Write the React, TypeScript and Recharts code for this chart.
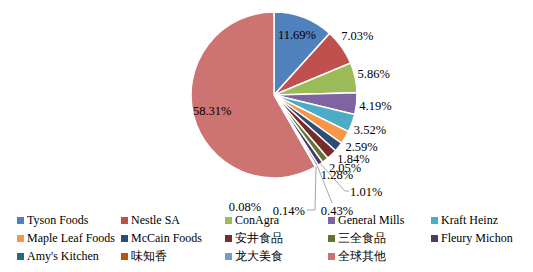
import React from 'react'
import { PieChart, Pie, Cell } from 'recharts'

const companies = [
	'Tyson Foods', 'Nestle SA', 'ConAgra', 'General Mills', 'Kraft Heinz',
	'Maple Leaf Foods', 'McCain Foods', '安井食品', '三全食品', 'Fleury Michon',
	"Amy's Kitchen", '味知香', '龙大美食', '全球其他',
]
const shares = [11.69, 7.03, 5.86, 4.19, 3.52, 2.59, 1.84, 2.05, 1.28, 1.01, 0.43, 0.14, 0.08, 58.31]
const colors = [
	'#4F81BD', '#C0504D', '#9BBB59', '#8064A2', '#4BACC6',
	'#F79646', '#2C4D75', '#772C2A', '#5F7530', '#4D3B62',
	'#276A7C', '#B65708', '#729ACA', '#CD7371',
]

const data = companies.map((name, i) => ({ name, value: shares[i] }))

const RADIAN = Math.PI / 180
const FONT = "'Liberation Serif', 'Times New Roman', serif"

// callouts for the tiny slices, offsets from the pie centre
const callouts: Record<number, { pts: number[][]; text: number[]; anchor: string }> = {
	9: { pts: [[71, 96], [75, 96]], text: [76, 97], anchor: 'start' },
	10: { pts: [[58, 108]], text: [63, 116], anchor: 'middle' },
	11: { pts: [[41, 115], [33, 115]], text: [31, 116], anchor: 'end' },
	12: { pts: [], text: [-29, 112], anchor: 'middle' },
}

const renderLabel = (props: any) => {
	const { cx, cy, midAngle, outerRadius, index, value } = props
	const cos = Math.cos(-midAngle * RADIAN)
	const sin = Math.sin(-midAngle * RADIAN)
	const txt = `${Number(value).toFixed(2)}%`
	const style = { fontFamily: FONT, fontSize: 12.5, fill: '#000' }

	if (callouts[index]) {
		const c = callouts[index]
		const sx = cx + outerRadius * cos
		const sy = cy + outerRadius * sin
		const pts = [[sx, sy], ...c.pts.map(p => [cx + p[0], cy + p[1]])]
		return (
			<g key={`l-${index}`}>
				{c.pts.length > 0 && (
					<polyline points={pts.map(p => p.join(',')).join(' ')} fill="none" stroke="#A6A6A6" strokeWidth={1} />
				)}
				<text x={cx + c.text[0]} y={cy + c.text[1]} textAnchor={c.anchor as any} dominantBaseline="central" style={style}>
					{txt}
				</text>
			</g>
		)
	}

	const inside = index === 0 || index === companies.length - 1
	const r = inside ? outerRadius * 0.77 : outerRadius + 19
	return (
		<text key={`l-${index}`} x={cx + r * cos} y={cy + r * sin} textAnchor="middle" dominantBaseline="central" style={style}>
			{txt}
		</text>
	)
}

const LegendBlock = () => (
	<div style={{ position: 'absolute', left: 17, top: 213, display: 'grid', gridTemplateColumns: '104px 104px 103px 103px 103px', rowGap: 4, fontFamily: FONT, fontSize: 12, color: '#000', lineHeight: '14px' }}>
		{companies.map((name, i) => (
			<div key={name} style={{ display: 'flex', alignItems: 'center', height: 14, whiteSpace: 'nowrap' }}>
				<span style={{ width: 7, height: 7, background: colors[i], marginRight: 3, flexShrink: 0 }} />
				{name}
			</div>
		))}
	</div>
)

export default function App() {
	return (
		<div style={{ position: 'absolute', left: 0, top: 0, width: 533, height: 272, background: '#fff', fontFamily: FONT }}>
			<PieChart width={533} height={272} margin={{ top: 0, right: 0, bottom: 0, left: 0 }}>
				<Pie
					data={data}
					dataKey="value"
					nameKey="name"
					cx={274}
					cy={95}
					outerRadius={83}
					startAngle={90}
					endAngle={-270}
					stroke="#fff"
					strokeWidth={1.5}
					label={renderLabel}
					labelLine={false}
					isAnimationActive={false}
				>
					{data.map((d, i) => (
						<Cell key={d.name} fill={colors[i]} />
					))}
				</Pie>
			</PieChart>
			<LegendBlock />
		</div>
	)
}
